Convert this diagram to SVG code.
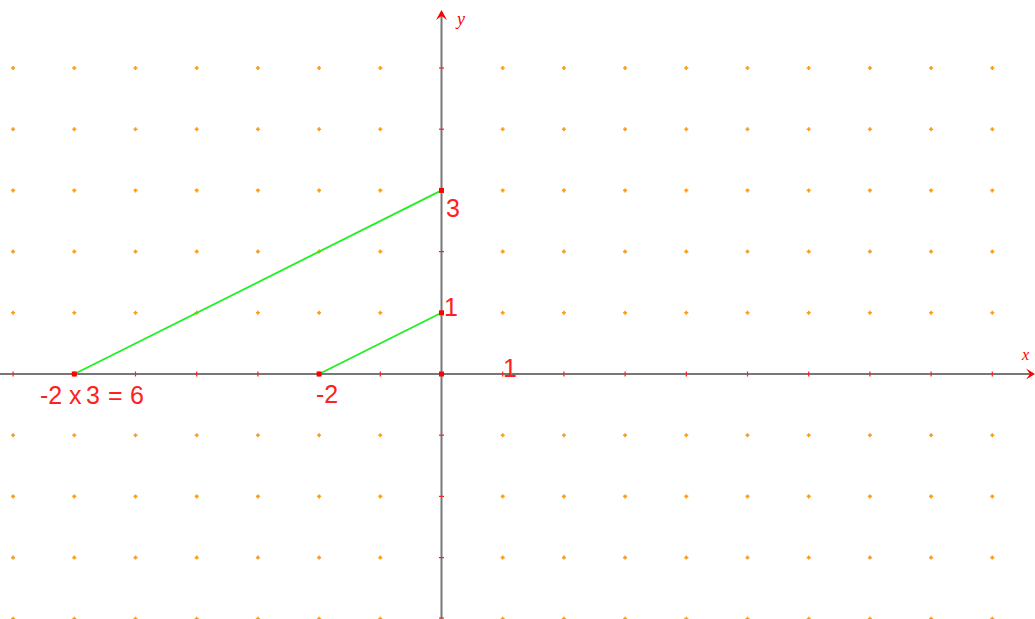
<svg xmlns="http://www.w3.org/2000/svg" xmlns:xlink="http://www.w3.org/1999/xlink" width="1035" height="619" viewBox="0 0 1035 619">
<style>
.lbl{font-family:"Liberation Sans",Arial,sans-serif;font-size:25px;fill:#ff2020}
.ax{font-family:"Liberation Serif","Times New Roman",serif;font-style:italic;fill:#ff0000}
.axis{stroke:#777;stroke-width:2;fill:none}
.tick{stroke:#ff2020;stroke-width:1.2}
.seg{stroke:#22ee22;stroke-width:1.8;fill:none}
.pt{fill:#ff0000}
</style>
<defs>
<path id="dot" d="M-2,0H2M0,-2V2" stroke="#ff9910" stroke-width="1.6"/>
<g id="row">
<use xlink:href="#dot" x="13.1"/><use xlink:href="#dot" x="74.3"/><use xlink:href="#dot" x="135.5"/><use xlink:href="#dot" x="196.7"/><use xlink:href="#dot" x="257.9"/><use xlink:href="#dot" x="319.1"/><use xlink:href="#dot" x="380.3"/><use xlink:href="#dot" x="502.7"/><use xlink:href="#dot" x="563.9"/><use xlink:href="#dot" x="625.1"/><use xlink:href="#dot" x="686.3"/><use xlink:href="#dot" x="747.5"/><use xlink:href="#dot" x="808.7"/><use xlink:href="#dot" x="869.9"/><use xlink:href="#dot" x="931.1"/><use xlink:href="#dot" x="992.3"/>
</g>
</defs>
<rect width="1035" height="619" fill="#fff"/>
<g id="grid">
<use xlink:href="#row" y="68"/><use xlink:href="#row" y="129.2"/><use xlink:href="#row" y="190.4"/><use xlink:href="#row" y="251.6"/><use xlink:href="#row" y="312.8"/><use xlink:href="#row" y="435.2"/><use xlink:href="#row" y="496.4"/><use xlink:href="#row" y="557.6"/><use xlink:href="#row" y="618.8"/>
</g>
<g id="axes">
<line class="axis" x1="0" y1="374" x2="1032" y2="374"/>
<line class="axis" x1="441.5" y1="12" x2="441.5" y2="619"/>
<path d="M436,20 L441.5,10 L447,20 L441.5,16 Z" fill="#ff0000"/>
<path d="M1026,368.5 L1035,374 L1026,379.5 L1030,374 Z" fill="#ff0000"/>
<g class="tick">
<line x1="13.1" y1="371.5" x2="13.1" y2="376.5"/><line x1="74.3" y1="371.5" x2="74.3" y2="376.5"/><line x1="135.5" y1="371.5" x2="135.5" y2="376.5"/><line x1="196.7" y1="371.5" x2="196.7" y2="376.5"/><line x1="257.9" y1="371.5" x2="257.9" y2="376.5"/><line x1="319.1" y1="371.5" x2="319.1" y2="376.5"/><line x1="380.3" y1="371.5" x2="380.3" y2="376.5"/><line x1="502.7" y1="371.5" x2="502.7" y2="376.5"/><line x1="563.9" y1="371.5" x2="563.9" y2="376.5"/><line x1="625.1" y1="371.5" x2="625.1" y2="376.5"/><line x1="686.3" y1="371.5" x2="686.3" y2="376.5"/><line x1="747.5" y1="371.5" x2="747.5" y2="376.5"/><line x1="808.7" y1="371.5" x2="808.7" y2="376.5"/><line x1="869.9" y1="371.5" x2="869.9" y2="376.5"/><line x1="931.1" y1="371.5" x2="931.1" y2="376.5"/><line x1="992.3" y1="371.5" x2="992.3" y2="376.5"/>
<line x1="439" y1="68" x2="444" y2="68"/><line x1="439" y1="129.2" x2="444" y2="129.2"/><line x1="439" y1="190.4" x2="444" y2="190.4"/><line x1="439" y1="251.6" x2="444" y2="251.6"/><line x1="439" y1="312.8" x2="444" y2="312.8"/><line x1="439" y1="435.2" x2="444" y2="435.2"/><line x1="439" y1="496.4" x2="444" y2="496.4"/><line x1="439" y1="557.6" x2="444" y2="557.6"/><line x1="439" y1="618" x2="444" y2="618"/>
</g>
<text class="ax" x="457" y="25" font-size="18">y</text>
<text class="ax" x="1022" y="360" font-size="16">x</text>
</g>
<g id="connectors">
<line class="seg" x1="74.3" y1="374" x2="441.5" y2="190.4"/>
<line class="seg" x1="319.1" y1="374" x2="441.5" y2="312.8"/>
</g>
<g id="points">
<rect class="pt" x="71.8" y="371.5" width="5" height="5"/>
<rect class="pt" x="316.6" y="371.5" width="5" height="5"/>
<rect class="pt" x="439" y="371.5" width="5" height="5"/>
<rect class="pt" x="439" y="310.3" width="5" height="5"/>
<rect class="pt" x="439" y="187.9" width="5" height="5"/>
</g>
<g id="labels">
<text class="lbl" x="446" y="217">3</text>
<text class="lbl" x="444" y="316">1</text>
<text class="lbl" x="503" y="377">1</text>
<text class="lbl" x="316" y="403">-2</text>
<text class="lbl" y="404"><tspan x="40">-2</tspan><tspan x="69">x</tspan><tspan x="86">3</tspan><tspan x="108">=</tspan><tspan x="130">6</tspan></text>
</g>
</svg>
